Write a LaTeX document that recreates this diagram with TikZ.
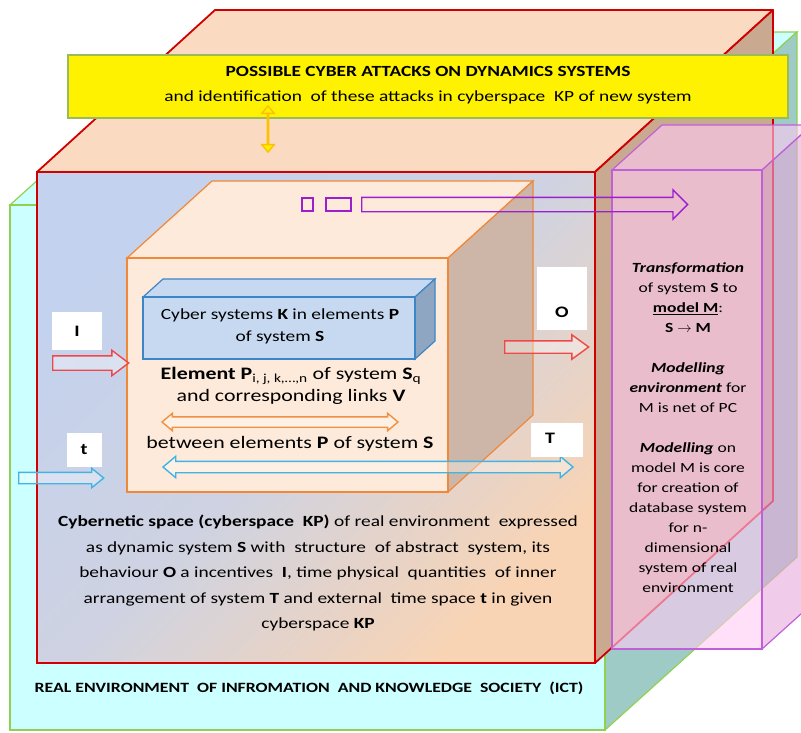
\documentclass[tikz,border=0pt]{standalone}
\usepackage{fontspec}
\setmainfont{Carlito}[FakeStretch=1.25]
\usetikzlibrary{shapes.arrows}

\definecolor{ictfront}{HTML}{CCFFFF}
\definecolor{ictside}{HTML}{9FCBC7}
\definecolor{ictline}{HTML}{92D050}
\definecolor{kptop}{HTML}{FADBC2}
\definecolor{kpside}{HTML}{C9A98F}
\definecolor{kpline}{HTML}{D00000}
\definecolor{kpblue}{HTML}{C3D2EE}
\definecolor{kppeach}{HTML}{F9D4B4}
\definecolor{elfront}{HTML}{FDEADA}
\definecolor{elside}{HTML}{CDB6A7}
\definecolor{elline}{HTML}{F0883A}
\definecolor{cyfront}{HTML}{C6D9F1}
\definecolor{cyside}{HTML}{8EA6C2}
\definecolor{cyline}{HTML}{3C86C8}
\definecolor{mdfill}{HTML}{FFCBF3}
\definecolor{mdside}{HTML}{E6A8DC}
\definecolor{mdline}{HTML}{C060D8}
\definecolor{attline}{HTML}{9BBB59}
\definecolor{arrred}{HTML}{F04848}
\definecolor{arrcyan}{HTML}{40B4E4}
\definecolor{arrpurple}{HTML}{9B1FD0}
\definecolor{arrorange}{HTML}{F09040}
\definecolor{arryellow}{HTML}{FFC000}

\tikzset{
  hollow/.style={single arrow, draw=#1, line width=1.4pt, fill=white, fill opacity=0.35,
    inner xsep=0pt, anchor=tail, single arrow head indent=0pt},
  twohead/.style={double arrow, draw=#1, line width=1.4pt, fill=white, fill opacity=0.35,
    inner xsep=0pt, double arrow head indent=0pt},
  tag/.style={fill=white, inner sep=0pt},
  txt/.style={align=center, inner sep=0pt, font=\fontsize{15.5}{25.5}\selectfont},
}

\begin{document}
\begin{tikzpicture}[x=1pt,y=-1pt]
  \clip (0,0) rectangle (801,732);

  % ICT environment (green box)
  \filldraw[draw=ictline, fill=ictfront, line width=1.2pt] (10,205) -- (202,32) -- (797,32) -- (605,205) -- cycle;
  \filldraw[draw=ictline, fill=ictside, line width=1.2pt] (605,205) -- (797,32) -- (797,557) -- (605,730) -- cycle;
  \filldraw[draw=ictline, fill=ictfront, line width=1.2pt] (10,205) rectangle (605,730);

  % cyberspace KP (red box)
  \filldraw[draw=kpline, fill=kptop, line width=1.8pt, line join=round] (37,172) -- (215,10) -- (773,10) -- (595,172) -- cycle;
  \filldraw[draw=kpline, fill=kpside, line width=1.8pt, line join=round] (595,172) -- (773,10) -- (773,501) -- (595,663) -- cycle;
  \shade[top color=kpblue, bottom color=kppeach, middle color=kpblue!78!kppeach, shading angle=45] (37,172) rectangle (595,663);
  \draw[kpline, line width=1.8pt] (37,172) rectangle (595,663);

  % element cube (orange)
  \filldraw[draw=elline, fill=elfront, line width=1.2pt] (127,258) -- (212,181) -- (533,181) -- (448,258) -- cycle;
  \filldraw[draw=elline, fill=elside, line width=1.2pt] (448,258) -- (533,181) -- (533,415) -- (448,492) -- cycle;
  \filldraw[draw=elline, fill=elfront, line width=1.2pt] (127,258) rectangle (448,492);

  % cyber systems K (blue box)
  \filldraw[draw=cyline, fill=cyfront, line width=1.2pt] (143,297) -- (163,279) -- (435,279) -- (415,297) -- cycle;
  \filldraw[draw=cyline, fill=cyside, line width=1.2pt] (415,297) -- (435,279) -- (435,341) -- (415,359) -- cycle;
  \filldraw[draw=cyline, fill=cyfront, line width=1.2pt] (143,297) rectangle (415,359);
  \node[txt, font=\fontsize{15.5}{22}\selectfont] (cyText) at (280,326)
    {Cyber systems \textbf{K} in elements \textbf{P}\\of system \textbf{S}};

  % element texts and links
  \node[txt, font=\fontsize{17.5}{22}\selectfont] (elemText) at (291,386)
    {\textbf{Element P}\textsubscript{i, j, k,…,n} of system \textbf{S}\textsubscript{q}\\and corresponding links \textbf{V}};
  \node[twohead=arrorange, inner ysep=4.5pt, double arrow head extend=3.5pt, double arrow tip angle=80, minimum height=236pt] (linkArrow) at (280,422) {};
  \node[txt, font=\fontsize{17.5}{22}\selectfont] (betweenText) at (290,444)
    {between elements \textbf{P} of system \textbf{S}};
  \node[twohead=arrcyan, inner ysep=5pt, double arrow head extend=5pt, double arrow tip angle=80, minimum height=410pt] (timeArrow) at (368,467) {};

  % inputs and outputs
  \node[tag, minimum width=50pt, minimum height=38pt, font=\fontsize{16}{18}\selectfont\bfseries] (labI) at (77,331) {I};
  \node[hollow=arrred, inner ysep=6.5pt, single arrow head extend=5.5pt, single arrow tip angle=74, minimum height=76pt] (inArrow) at (52,363) {};
  \node[tag, minimum width=50pt, minimum height=63pt] (labO) at (562,298) {};
  \node[font=\fontsize{16}{18}\selectfont\bfseries] (labOtext) at (562,312) {O};
  \node[hollow=arrred, inner ysep=5.5pt, single arrow head extend=6pt, single arrow tip angle=72, minimum height=84pt] (outArrow) at (504,347) {};
  \node[tag, minimum width=35pt, minimum height=34pt, font=\fontsize{16}{18}\selectfont\bfseries] (labt) at (84,450) {t};
  \node[hollow=arrcyan, inner ysep=5pt, single arrow head extend=4pt, single arrow tip angle=78, minimum height=85pt] (tArrow) at (18,478) {};
  \node[tag, minimum width=52pt, minimum height=34pt] (labT) at (557,440) {};
  \node[font=\fontsize{16}{18}\selectfont\bfseries] (labTtext) at (550,438) {T};

  % description of cyberspace
  \node[txt] (kpText) at (318,573)
    {\textbf{Cybernetic space (cyberspace\ \ KP)} of real environment\ \ expressed\\
     as dynamic system \textbf{S} with\ \ structure\ \ of abstract\ \ system, its\\
     behaviour \textbf{O} a incentives\ \ \textbf{I}, time physical\ \ quantities\ \ of inner\\
     arrangement of system \textbf{T} and external\ \ time space \textbf{t} in given\\
     cyberspace \textbf{KP}};
  \node[txt, font=\fontsize{14.2}{16}\selectfont\bfseries] (ictText) at (309,688)
    {REAL ENVIRONMENT\ \ OF INFROMATION\ \ AND KNOWLEDGE\ \ SOCIETY\ \ (ICT)};

  % model M (pink box)
  \filldraw[draw=mdline, fill=mdfill, line width=1.2pt, fill opacity=0.6] (612,170) -- (662,125) -- (812,125) -- (762,170) -- cycle;
  \filldraw[draw=mdline, fill=mdside, line width=1.2pt, fill opacity=0.6] (762,170) -- (812,125) -- (812,604) -- (762,649) -- cycle;
  \filldraw[draw=mdline, fill=mdfill, line width=1.2pt, fill opacity=0.6] (612,170) rectangle (762,649);
  \node[txt, font=\fontsize{14}{20}\selectfont] (mdText) at (688,428)
    {\textbf{\textit{Transformation}}\\of system \textbf{S} to\\\underline{\textbf{model M}}:\\\textbf{S $\rightarrow$ M}\\[20pt]
     \textbf{\textit{Modelling}}\\\textbf{\textit{environment}} for\\M is net of PC\\[20pt]
     \textbf{\textit{Modelling}} on\\model M is core\\for creation of\\database system\\for n-\\dimensional\\system of real\\environment};

  % transformation S -> M
  \draw[arrpurple, line width=1.6pt] (302,198) rectangle (313,211);
  \draw[arrpurple, line width=1.6pt] (326,198) rectangle (351,211);
  \node[hollow=arrpurple, fill opacity=0, inner ysep=6.5pt, single arrow head extend=7.5pt, single arrow tip angle=90, minimum height=326pt] (smArrow) at (361,204.5) {};

  % cyber attacks (yellow box)
  \node[draw=attline, fill=yellow, line width=1.2pt, minimum width=720pt, minimum height=63pt, inner sep=0pt] (attBox) at (428,86.5) {};
  \node[txt, font=\fontsize{15.5}{25}\selectfont] (attText) at (428,85.5)
    {\textbf{POSSIBLE CYBER ATTACKS ON DYNAMICS SYSTEMS}\\and identification\ \ of these attacks in cyberspace\ \ KP of new system};
  \node[twohead=arryellow, fill=yellow, fill opacity=1, inner ysep=5.5pt, double arrow head extend=5.5pt, double arrow tip angle=80, minimum height=46pt, shape border rotate=90] (attArrow) at (268,129) {};
\end{tikzpicture}
\end{document}
